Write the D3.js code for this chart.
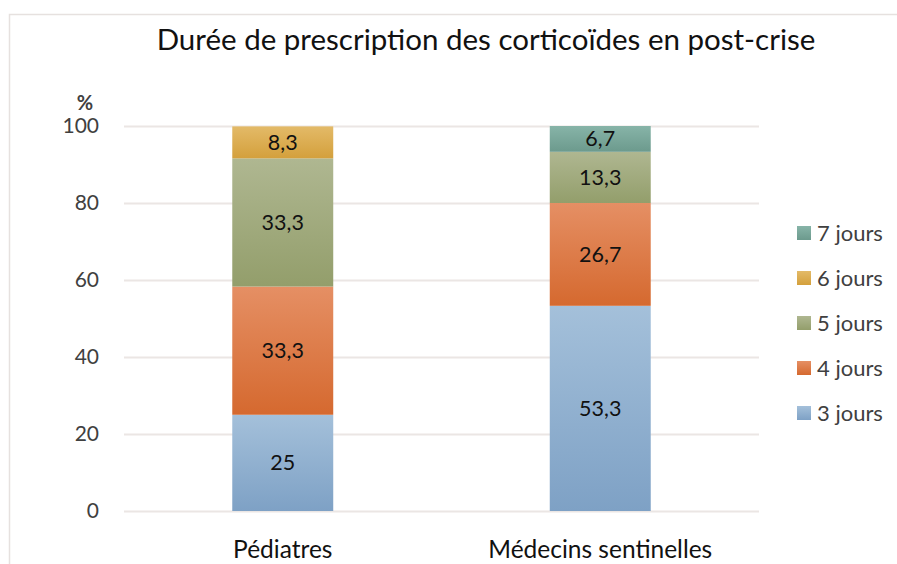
<!DOCTYPE html>
<head>
<meta charset="utf-8">
<script src="https://d3js.org/d3.v7.min.js"></script>
<style>
body { margin: 0; background: #fff; }
text { font-family: Lato, "Open Sans", sans-serif; }
</style>
</head>
<body>
<svg id="chart"></svg>
<script>

// chart data
var categories = ["Pédiatres", "Médecins sentinelles"];
var series = ["3 jours", "4 jours", "5 jours", "6 jours", "7 jours"];
var values3 = [25, 53.3];
var values4 = [33.3, 26.7];
var values5 = [33.3, 13.3];
var values6 = [8.3, 0];
var values7 = [0, 6.7];
var yTicks = [0, 20, 40, 60, 80, 100];

var colors = {
    "3 jours": ["#a4c0da", "#7ea1c5"],
    "4 jours": ["#e58f64", "#d5692f"],
    "5 jours": ["#afb791", "#939e6b"],
    "6 jours": ["#e3ba68", "#d4a03c"],
    "7 jours": ["#87b4a8", "#6c9a8d"]
};

var width = 897, height = 564;
var margin = {left: 124, right: 138, top: 126, bottom: 53};

var svg = d3.select("#chart")
    .attr("width", width)
    .attr("height", height);

// outer frame (extends past the window on the right and bottom)
svg.append("rect")
    .attr("x", 9.5).attr("y", 14.5)
    .attr("width", 900).attr("height", 600)
    .attr("fill", "none")
    .attr("stroke", "#e6e1df")
    .attr("stroke-width", 1.5);

var defs = svg.append("defs");
series.forEach((s, i) => {
    let g = defs.append("linearGradient")
        .attr("id", "grad" + i)
        .attr("x1", 0).attr("y1", 0).attr("x2", 0).attr("y2", 1);
    g.append("stop").attr("offset", "0%").attr("stop-color", colors[s][0]);
    g.append("stop").attr("offset", "100%").attr("stop-color", colors[s][1]);
});

var table = categories.map((c, i) => ({
    cat: c,
    "3 jours": values3[i],
    "4 jours": values4[i],
    "5 jours": values5[i],
    "6 jours": values6[i],
    "7 jours": values7[i]
}));
var stacked = d3.stack().keys(series)(table);

var x = d3.scaleBand()
    .domain(categories)
    .range([margin.left, width - margin.right])
    .padding(0);
var barW = x.bandwidth() * 0.318;

var y = d3.scaleLinear()
    .domain([0, 100])
    .range([height - margin.bottom, margin.top]);

// gridlines
svg.append("g").selectAll("line")
    .data(yTicks)
    .join("line")
    .attr("x1", margin.left)
    .attr("x2", width - margin.right)
    .attr("y1", d => Math.round(y(d)) + 0.5)
    .attr("y2", d => Math.round(y(d)) + 0.5)
    .attr("stroke", "#ebe6e4")
    .attr("stroke-width", 2);

// y axis labels
var yAxis = svg.append("g")
    .attr("transform", `translate(${margin.left - 25},0)`)
    .call(d3.axisLeft(y).tickValues(yTicks).tickSize(0).tickPadding(0));
yAxis.select(".domain").remove();
yAxis.selectAll("text")
    .attr("font-family", "Lato, 'Open Sans', sans-serif")
    .attr("font-size", 21)
    .attr("fill", "#404040");

svg.append("text")
    .attr("x", 85).attr("y", 110)
    .attr("text-anchor", "middle")
    .attr("font-size", 20)
    .attr("font-weight", "bold")
    .attr("fill", "#404040")
    .text("%");

// bars
var groups = svg.append("g").selectAll("g")
    .data(stacked)
    .join("g")
    .attr("fill", (d, i) => "url(#grad" + i + ")");

groups.selectAll("rect")
    .data(d => d.filter(p => p[1] - p[0] > 0))
    .join("rect")
    .attr("x", d => x(d.data.cat) + (x.bandwidth() - barW) / 2)
    .attr("width", barW)
    .attr("y", d => y(d[1]))
    .attr("height", d => y(d[0]) - y(d[1]));

// data labels
var fmt = v => String(v).replace(".", ",");
groups.selectAll("text")
    .data(d => d.filter(p => p[1] - p[0] > 0).map(p => ({p: p, v: p.data[d.key]})))
    .join("text")
    .attr("x", d => x(d.p.data.cat) + x.bandwidth() / 2)
    .attr("y", d => (y(d.p[0]) + y(d.p[1])) / 2)
    .attr("dy", "0.35em")
    .attr("text-anchor", "middle")
    .attr("font-size", 21.5)
    .attr("fill", "#111")
    .text(d => fmt(d.v));

// category labels
svg.append("g").selectAll("text")
    .data(categories)
    .join("text")
    .attr("x", d => x(d) + x.bandwidth() / 2)
    .attr("y", 558)
    .attr("text-anchor", "middle")
    .attr("font-size", 24.5)
    .attr("fill", "#111")
    .text(d => d);

// title
svg.append("text")
    .attr("x", 486).attr("y", 50)
    .attr("text-anchor", "middle")
    .attr("font-size", 29.5)
    .attr("fill", "#111")
    .text("Durée de prescription des corticoïdes en post-crise");

// legend
var legend = svg.append("g").selectAll("g")
    .data(series.slice().reverse())
    .join("g")
    .attr("transform", (d, i) => `translate(797,${233 + i * 45})`);
legend.append("rect")
    .attr("x", 0).attr("y", -7)
    .attr("width", 14).attr("height", 14)
    .attr("fill", d => "url(#grad" + series.indexOf(d) + ")");
legend.append("text")
    .attr("x", 20).attr("y", 0)
    .attr("dy", "0.35em")
    .attr("font-size", 22)
    .attr("fill", "#404040")
    .text(d => d);

</script>
</body>
